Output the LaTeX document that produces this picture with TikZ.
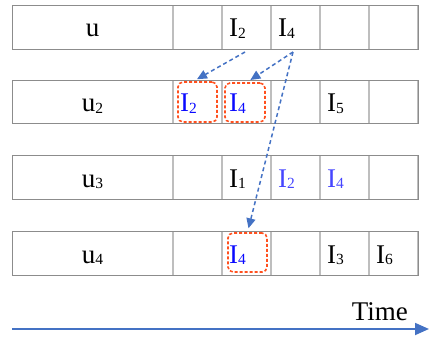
\documentclass[tikz,border=0pt]{standalone}
\usepackage{fontspec}
\setmainfont{Liberation Serif}
\usetikzlibrary{arrows.meta}
\definecolor{arrowblue}{RGB}{68,114,196}
\definecolor{boxred}{RGB}{255,80,30}
\definecolor{itemblue}{RGB}{10,10,255}
\definecolor{lightblue}{RGB}{70,70,255}
\definecolor{outergray}{RGB}{140,140,140}
\definecolor{innergray}{RGB}{190,190,190}
\newcommand{\mysub}[1]{\raisebox{-1.5pt}{\fontsize{15.5}{15.5}\selectfont #1}}
\tikzset{
  firstcell/.style={draw=outergray, line width=1pt, minimum width=161pt, minimum height=43.5pt, inner sep=0pt, outer sep=0pt},
  cell/.style={draw=innergray, line width=1.2pt, minimum width=49pt, minimum height=43.5pt, inner sep=0pt, outer sep=0pt},
  lbl/.style={inner sep=0pt, font=\fontsize{27}{27}\selectfont},
  hl/.style={draw=boxred, dash pattern=on 3pt off 2pt, line width=1.6pt, rounded corners=5pt, inner sep=0pt},
  link/.style={draw=arrowblue, dash pattern=on 4pt off 3pt, line width=1.5pt, -{Triangle[length=10pt,width=9pt]}}
}
\begin{document}
\begin{tikzpicture}[x=1pt,y=-1pt]
\useasboundingbox (0,0) rectangle (429,340);
% rows of cells
\foreach \r/\y in {1/27.5, 2/102, 3/177.5, 4/253.5}{
  \foreach \c in {1,...,5}{
    \node[cell] (r\r c\c) at ({173+49*(\c-0.5)}, \y) {};
  }
  \draw[outergray, line width=1pt] (12,\y-21.75) rectangle (418,\y+21.75);
  \node[firstcell, draw=none] (r\r c0) at (92.5,\y) {};
}
% highlight boxes
\node[hl, minimum width=39pt, minimum height=40pt] (b1) at (197.5,102) {};
\node[hl, minimum width=40pt, minimum height=39pt] (b2) at (245,102.5) {};
\node[hl, minimum width=39pt, minimum height=39pt] (b3) at (247.5,252.5) {};
% row labels
\node[lbl, anchor=base] (u1) at (92.5,37) {u};
\node[lbl, anchor=base] (u2) at (92.5,111.5) {u\mysub{2}};
\node[lbl, anchor=base] (u3) at (92.5,187) {u\mysub{3}};
\node[lbl, anchor=base] (u4) at (92.5,263) {u\mysub{4}};
% row 1 items
\node[lbl, anchor=base west] (a12) at (229,37) {I\mysub{2}};
\node[lbl, anchor=base west] (a13) at (278,37) {I\mysub{4}};
% row 2 items
\node[lbl, anchor=base west, text=itemblue] (a21) at (180,111.5) {I\mysub{2}};
\node[lbl, anchor=base west, text=itemblue] (a22) at (229,111.5) {I\mysub{4}};
\node[lbl, anchor=base west] (a24) at (327,111.5) {I\mysub{5}};
% row 3 items
\node[lbl, anchor=base west] (a32) at (229,187) {I\mysub{1}};
\node[lbl, anchor=base west, text=lightblue] (a33) at (278,187) {I\mysub{2}};
\node[lbl, anchor=base west, text=lightblue] (a34) at (327,187) {I\mysub{4}};
% row 4 items
\node[lbl, anchor=base west, text=itemblue] (a42) at (229,263) {I\mysub{4}};
\node[lbl, anchor=base west] (a44) at (327,263) {I\mysub{3}};
\node[lbl, anchor=base west] (a45) at (376,263) {I\mysub{6}};
% dashed links
\coordinate (s1) at (245,52);
\coordinate (s2) at (293,52);
\draw[link, shorten >=4pt] (s1) -- ([xshift=-4pt]b1.north);
\draw[link, shorten >=4pt] (s2) -- ([xshift=2pt]b2.north);
\draw[link, shorten >=4pt] (s2) -- (b3.north);
% time axis
\coordinate (t0) at (12,329);
\coordinate (t1) at (429,329);
\draw[arrowblue, line width=1.8pt, -{Triangle[length=14pt,width=12pt]}] (t0) -- (t1);
\node[lbl, anchor=base east] (time) at (408,320) {Time};
\end{tikzpicture}
\end{document}
